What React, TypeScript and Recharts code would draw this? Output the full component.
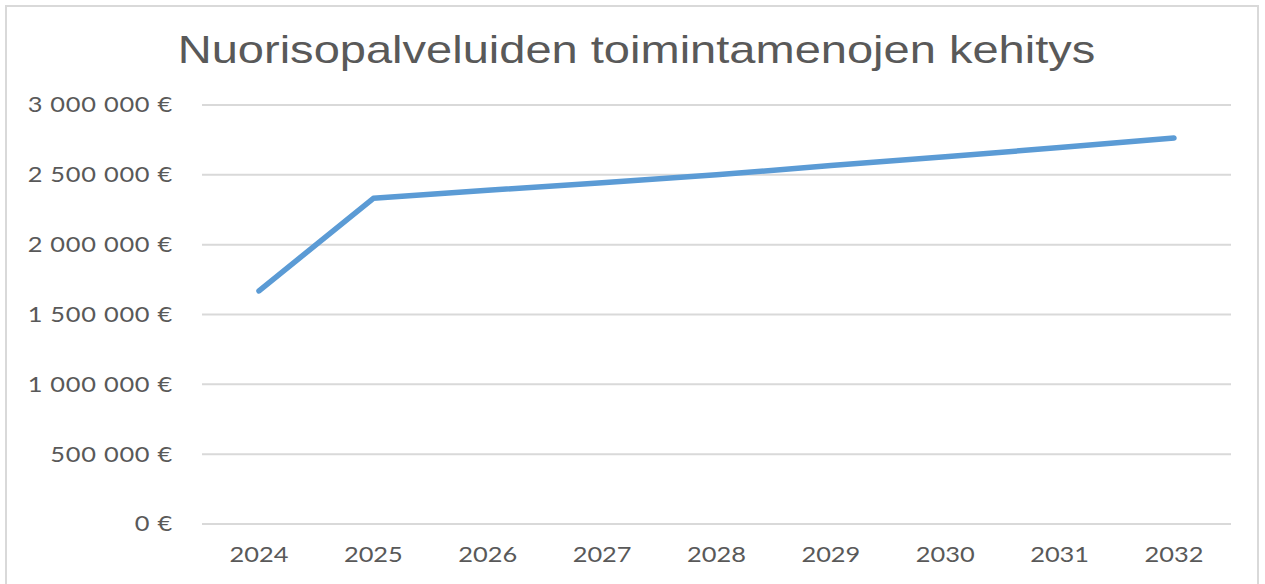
import { CartesianGrid, Line, LineChart, XAxis, YAxis } from 'recharts';

const years = ['2024', '2025', '2026', '2027', '2028', '2029', '2030', '2031', '2032'];
const menot = [1669000, 2332000, 2390000, 2443000, 2500000, 2566000, 2630000, 2695000, 2763000];
const yTicks = [0, 500000, 1000000, 1500000, 2000000, 2500000, 3000000];
const yTickLabels = ['0 €', '500 000 €', '1 000 000 €', '1 500 000 €', '2 000 000 €', '2 500 000 €', '3 000 000 €'];

const data = years.map((year, i) => ({ year, menot: menot[i] }));

const TEXT = '#595959';
const STRETCH = 1.21;

function YTick({ x, y, payload }: any) {
  const i = yTicks.indexOf(payload.value);
  return (
    <text
      transform={`translate(${x},${y}) scale(${STRETCH},1)`}
      textAnchor="end"
      dy="0.355em"
      fill={TEXT}
      fontFamily="Lato, sans-serif"
      fontSize={21}
      letterSpacing={0.6}
    >
      {yTickLabels[i]}
    </text>
  );
}

function XTick({ x, y, payload }: any) {
  return (
    <text
      transform={`translate(${x},${y}) scale(${STRETCH},1)`}
      textAnchor="middle"
      dy={38}
      fill={TEXT}
      fontFamily="Lato, sans-serif"
      fontSize={21}
    >
      {payload.value}
    </text>
  );
}

export default function App() {
  return (
    <div style={{ position: 'absolute', left: 0, top: 0, width: 1265, height: 584, overflow: 'hidden', background: '#fff' }}>
      <div
        style={{
          position: 'absolute',
          left: 5,
          top: 5,
          width: 1254,
          height: 640,
          border: '2px solid #d9d9d9',
          boxSizing: 'border-box',
        }}
      />
      <svg width={1265} height={80} style={{ position: 'absolute', left: 0, top: 0 }}>
        <text
          transform={`translate(636.5,62.7) scale(1.222,1)`}
          textAnchor="middle"
          fill={TEXT}
          fontFamily="'Liberation Sans', Arial, sans-serif"
          fontSize={38.5}
        >
          Nuorisopalveluiden toimintamenojen kehitys
        </text>
      </svg>
      <div style={{ position: 'absolute', left: 0, top: 0 }}>
        <LineChart width={1265} height={584} data={data} margin={{ top: 105, right: 34, bottom: 20, left: 12 }}>
          <CartesianGrid vertical={false} stroke="#d9d9d9" strokeWidth={2} />
          <XAxis
            dataKey="year"
            axisLine={false}
            tickLine={false}
            tickSize={0}
            tickMargin={0}
            height={40}
            padding={{ left: 57, right: 57 }}
            tick={<XTick />}
            interval={0}
          />
          <YAxis
            domain={[0, 3000000]}
            ticks={yTicks}
            axisLine={false}
            tickLine={false}
            tickSize={0}
            tickMargin={29}
            width={190}
            tick={<YTick />}
            interval={0}
          />
          <Line
            type="linear"
            dataKey="menot"
            stroke="#5b9bd5"
            strokeWidth={5.5}
            strokeLinecap="round"
            strokeLinejoin="round"
            dot={false}
            activeDot={false}
            isAnimationActive={false}
          />
        </LineChart>
      </div>
    </div>
  );
}
